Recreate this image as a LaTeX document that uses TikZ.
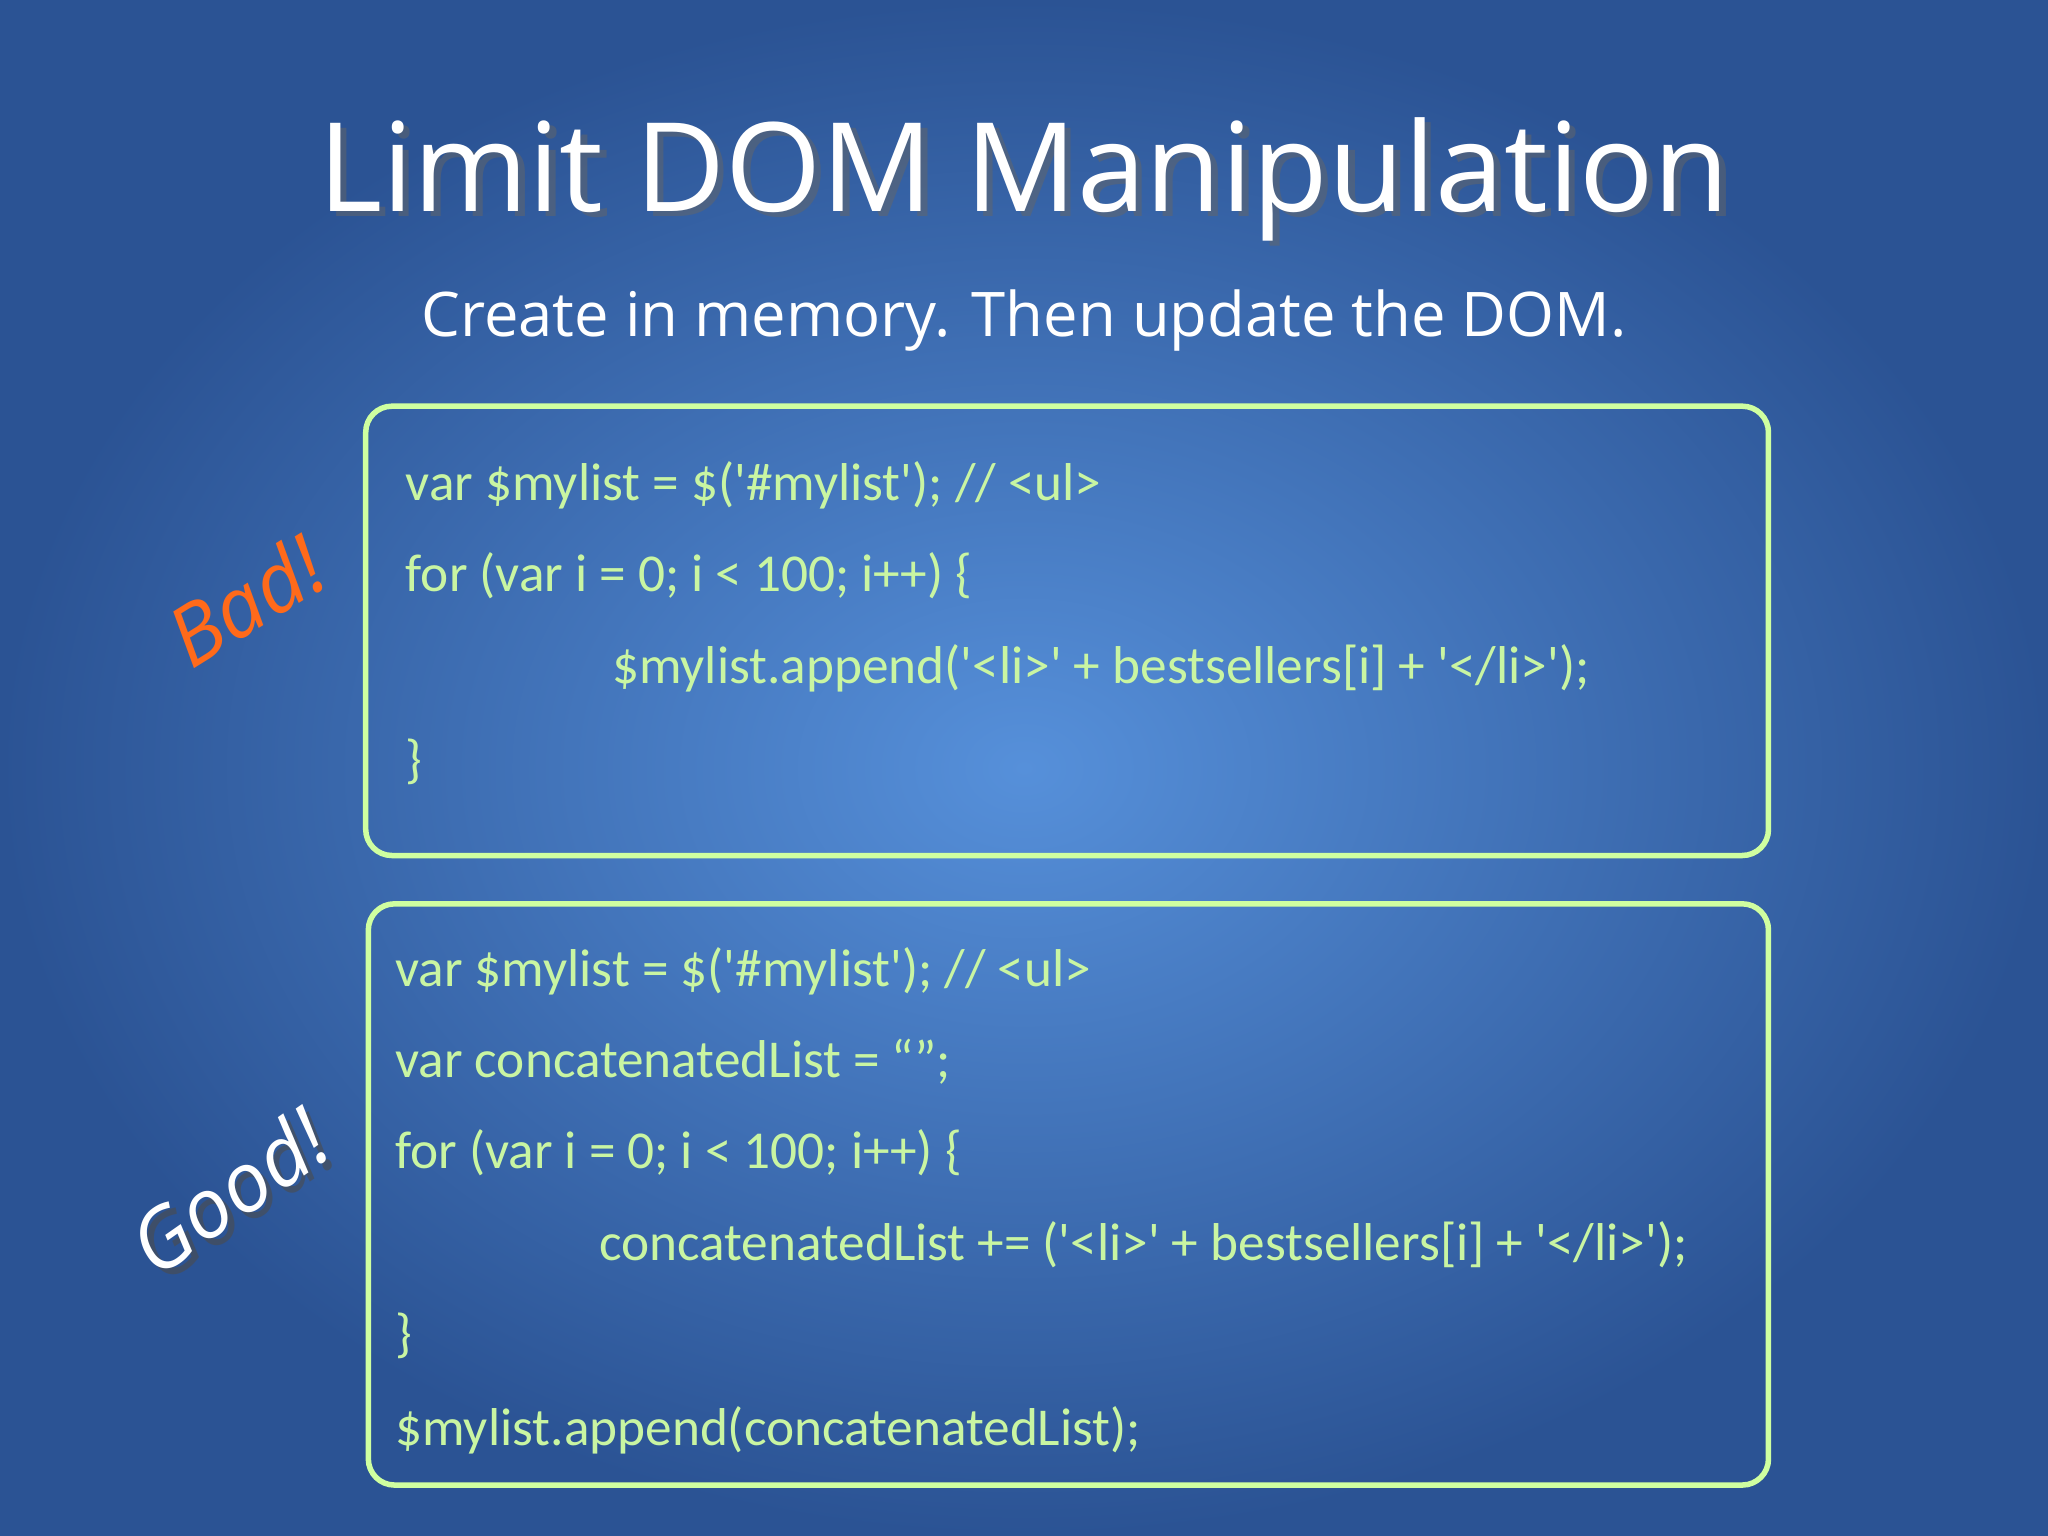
\documentclass[tikz,border=0pt]{standalone}
\usepackage{fontspec}
\setmainfont{Open Sans}
\newfontfamily\codefont{Carlito}
\definecolor{bgin}{HTML}{5690DA}
\definecolor{bgout}{HTML}{2B5394}
\definecolor{codegreen}{HTML}{C9F5A2}
\definecolor{boxgreen}{HTML}{CFFFA0}
\definecolor{badorange}{HTML}{FF6A1A}
\tikzset{
  codebox/.style={draw=boxgreen, line width=1.2pt, rounded corners=0.2cm},
  code/.style={anchor=base west, text=codegreen, font=\codefont\fontsize{11.6}{14}\selectfont, inner sep=0pt},
  tag/.style={font=\itshape\fontsize{18}{20}\selectfont, inner sep=0pt}
}
\begin{document}
\begin{tikzpicture}[x=0.01cm,y=-0.01cm]
\useasboundingbox (0,0) rectangle (1568,1176);
\shade[inner color=bgin, outer color=bgout] (0,0) rectangle (1568,1176);
\node[anchor=base, text=black!60, opacity=0.5, font=\fontsize{26.9}{32}\selectfont, inner sep=0pt] (titlesh) at (789,166) {Limit DOM Manipulation};
\node[anchor=base, text=white, font=\fontsize{26.9}{32}\selectfont, inner sep=0pt] (title) at (784,162) {Limit DOM Manipulation};
\node[anchor=base, text=white, font=\fontsize{13.4}{16}\selectfont, inner sep=0pt] (sub) at (784,258) {Create in memory. Then update the DOM.};
\draw[codebox] (280,311) rectangle (1354,655);
\draw[codebox] (282,692) rectangle (1354,1137);
\node[code] (a1) at (310,383) {var \$mylist = \$('\#mylist'); // <ul>};
\node[code] (a2) at (310,453) {for (var i = 0; i < 100; i++) \{};
\node[code] (a3) at (468,523) {\$mylist.append('<li>' + bestsellers[i] + '</li>');};
\node[code] (a4) at (310,595) {\}};
\node[code] (b1) at (302,755) {var \$mylist = \$('\#mylist'); // <ul>};
\node[code] (b2) at (302,825) {var concatenatedList = “”;};
\node[code] (b3) at (302,895) {for (var i = 0; i < 100; i++) \{};
\node[code] (b4) at (458,965) {concatenatedList += ('<li>' + bestsellers[i] + '</li>');};
\node[code] (b5) at (302,1035) {\}};
\node[code] (b6) at (302,1107) {\$mylist.append(concatenatedList);};
\node[tag, text=badorange, rotate=32] (bad) at (188,460) {Bad!};
\node[tag, text=black!70, opacity=0.6, rotate=35] (goodsh) at (180,917) {Good!};
\node[tag, text=white, rotate=35] (good) at (175,912) {Good!};
\end{tikzpicture}
\end{document}
